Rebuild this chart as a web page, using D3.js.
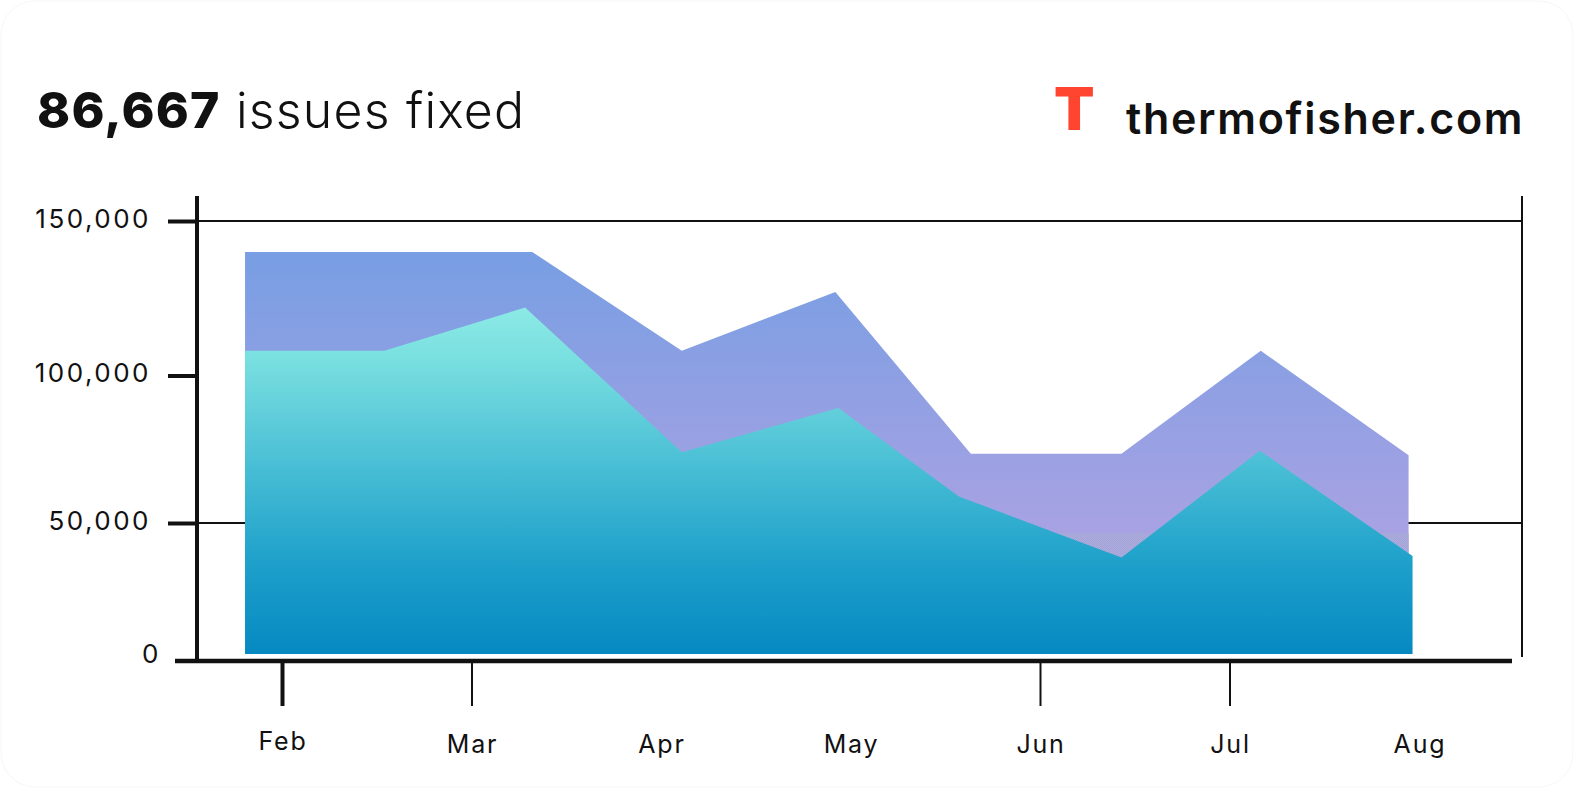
<!DOCTYPE html>
<html><head><meta charset="utf-8">
<script src="https://cdn.jsdelivr.net/npm/d3@7"></script>
<style>
body{margin:0;background:#fff}
svg{display:block}
text{font-family:Inter,"Noto Sans",sans-serif;fill:#111}
</style>
</head><body>
<svg id="chart" width="1574" height="788"></svg>
<script>
// ---- data ----
const months = ["Feb","Mar","Apr","May","Jun","Jul","Aug"];
const tickMonths = ["Feb","Mar","Jun","Jul"];
// sample positions, in months after Feb
const totalPeriods = [-0.195, 0.54, 1.32, 2.11, 2.92, 3.635, 4.43, 5.165, 5.945];
const fixedPeriods = [-0.195, 0.54, 1.283, 2.11, 2.936, 3.572, 4.43, 5.16, 5.966];
const issuesTotal = [140000,140000,140000,108000,127000,73500,73500,108000,73000];
const issuesFixed = [108000,108000,122000,74000,89000,59000,37500,74500,38000];
const yTickValues = [0,50000,100000,150000];
const gridValues = [50000,150000];
const headline = 86667;
const headlineText = " issues fixed";
const brand = "thermofisher.com";

const svg = d3.select("#chart");
const W = 1574, H = 788;

// card
svg.append("rect").attr("x",1).attr("y",1).attr("width",W-2).attr("height",H-2)
  .attr("rx",34).attr("fill","#fff").attr("stroke","#f7f7f7").attr("stroke-width",1);

// scales
const x = d3.scaleLinear().domain([0, months.length-1]).range([282, 1419]);
const y = d3.scaleLinear().domain(yTickValues).range([661, 523, 375.5, 221]);
const plotLeft = 197, plotRight = 1522, plotTop = 196;
const baseY = y(0) - 7;

// defs
const defs = svg.append("defs");
const gP = defs.append("linearGradient").attr("id","gP").attr("gradientUnits","userSpaceOnUse")
  .attr("x1",0).attr("x2",0).attr("y1",y(140000)).attr("y2",533);
gP.append("stop").attr("offset","0%").attr("stop-color","#789ee3");
gP.append("stop").attr("offset","100%").attr("stop-color","#a8a2e3");
const gT = defs.append("linearGradient").attr("id","gT").attr("gradientUnits","userSpaceOnUse")
  .attr("x1",0).attr("x2",0).attr("y1",y(122000)).attr("y2",baseY);
[["0%","#8ceae5"],["15%","#79dfe0"],["45%","#4abfd5"],["75%","#1c9fca"],["100%","#0689c1"]]
  .forEach(([o,c])=>gT.append("stop").attr("offset",o).attr("stop-color",c));
const pat = defs.append("pattern").attr("id","dither").attr("patternUnits","userSpaceOnUse")
  .attr("width",2).attr("height",2);
pat.append("rect").attr("width",2).attr("height",2).attr("fill","#aeaae8");
pat.append("rect").attr("width",1).attr("height",1).attr("fill","#a2a5cc");
pat.append("rect").attr("x",1).attr("y",1).attr("width",1).attr("height",1).attr("fill","#a2a5cc");
defs.append("clipPath").attr("id","lowClip").append("rect")
  .attr("x",0).attr("y",533).attr("width",W).attr("height",H);

// gridlines
svg.append("g").selectAll("line").data(gridValues).join("line")
  .attr("x1",plotLeft).attr("x2",plotRight).attr("y1",d=>y(d)).attr("y2",d=>y(d))
  .attr("stroke","#111").attr("stroke-width",2);

// areas
const areaFor = periods => d3.area()
  .x((d,i)=>x(periods[i]))
  .y0(baseY)
  .y1(d=>y(d));
svg.append("path").datum(issuesTotal).attr("d",areaFor(totalPeriods)).attr("fill","url(#gP)");
svg.append("path").datum(issuesTotal).attr("d",areaFor(totalPeriods)).attr("fill","url(#dither)").attr("clip-path","url(#lowClip)");
svg.append("path").datum(issuesFixed).attr("d",areaFor(fixedPeriods)).attr("fill","url(#gT)");

// right frame line
svg.append("line").attr("x1",plotRight).attr("x2",plotRight).attr("y1",plotTop).attr("y2",657)
  .attr("stroke","#111").attr("stroke-width",2);

// y axis
const yAxis = svg.append("g").attr("transform",`translate(${plotLeft},0)`)
  .call(d3.axisLeft(y).tickValues(yTickValues).tickSize(29).tickPadding(15).tickFormat(d3.format(",")));
yAxis.select(".domain").remove();
yAxis.selectAll(".tick line").attr("stroke","#111").attr("stroke-width",4)
  .attr("display",d=>d===0?"none":null);
yAxis.selectAll(".tick text").attr("font-size",26).attr("fill","#111").attr("dy","0.36em")
  .attr("letter-spacing",2.5)
  .attr("font-family","Inter, 'Noto Sans', sans-serif")
  .attr("transform",d=>d===0?"translate(8,-8)":"translate(-2,-3)");
svg.append("line").attr("x1",plotLeft).attr("x2",plotLeft).attr("y1",plotTop).attr("y2",663)
  .attr("stroke","#111").attr("stroke-width",4);

// x axis
svg.append("line").attr("x1",175).attr("x2",1512).attr("y1",y(0)).attr("y2",y(0))
  .attr("stroke","#111").attr("stroke-width",4.5);
const xAxis = svg.append("g").attr("transform",`translate(0,${y(0)})`)
  .call(d3.axisBottom(x).tickValues(tickMonths.map(m=>months.indexOf(m))).tickSize(45).tickFormat(""));
xAxis.select(".domain").remove();
xAxis.selectAll(".tick line").attr("stroke","#111").attr("stroke-width",(d,i)=>i===0?4:2);
svg.append("g").selectAll("text").data(months).join("text")
  .attr("x",(d,i)=>x(i)+1).attr("y",(d,i)=>i===0?750:753)
  .attr("text-anchor","middle").attr("font-size",25).attr("letter-spacing",1.8).text(d=>d);

// title
const t = svg.append("text").attr("x",37).attr("y",128).attr("font-size",50).attr("letter-spacing",1.2);
t.append("tspan").attr("font-weight",800).text(d3.format(",")(headline));
t.append("tspan").attr("font-weight",300).text(headlineText);

// brand
svg.append("text").attr("x",1054).attr("y",130).attr("font-size",59).attr("font-weight",900)
  .style("fill","#ff4530").text("T");
svg.append("text").attr("x",1126).attr("y",134).attr("font-size",43).attr("font-weight",600)
  .attr("letter-spacing",1.7).text(brand);
</script>
</body></html>
